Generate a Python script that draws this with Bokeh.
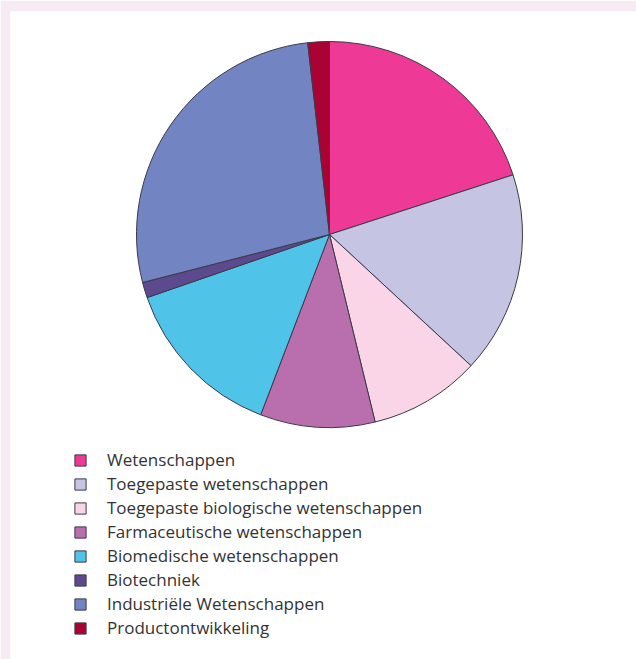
import numpy as np
from bokeh.plotting import figure
from bokeh.models import Range1d, ColumnDataSource, Legend, LegendItem, GlobalInlineStyleSheet
from bokeh.embed import file_html
from bokeh.resources import INLINE

categories = [
    "Wetenschappen",
    "Toegepaste wetenschappen",
    "Toegepaste biologische wetenschappen",
    "Farmaceutische wetenschappen",
    "Biomedische wetenschappen",
    "Biotechniek",
    "Industriële Wetenschappen",
    "Productontwikkeling",
]
values = [20.0, 16.9, 9.3, 9.6, 13.9, 1.3, 27.2, 1.8]
colors = ["#ee3a96", "#c5c4e2", "#f9d5e7", "#b96fae", "#50c3e9", "#5d4a8e", "#7285c2", "#ab0234"]

W, H = 636, 659
vals = np.array(values, dtype=float)
frac = vals / vals.sum()
cum = np.concatenate([[0], np.cumsum(frac)])
start = np.pi / 2 - cum[:-1] * 2 * np.pi
end = np.pi / 2 - cum[1:] * 2 * np.pi

cx, cy, r = 329, H - 234, 193

p = figure(width=W, height=H, output_backend="svg", toolbar_location=None,
           x_range=Range1d(10, W), y_range=Range1d(0, H - 11),
           min_border_left=10, min_border_top=11, min_border_right=0, min_border_bottom=0)
p.stylesheets = [GlobalInlineStyleSheet(css="body{margin:0 !important;background:#ffffff;}")]
p.border_fill_color = "#f6ebf3"
p.background_fill_color = "#ffffff"
p.outline_line_color = None
p.xaxis.visible = False
p.yaxis.visible = False
p.grid.visible = False

renderers = []
for i, c in enumerate(categories):
    rr = p.wedge(x=cx, y=cy, radius=r, start_angle=start[i], end_angle=end[i],
                 direction="clock", fill_color=colors[i], line_color="#3b3948", line_width=1)
    renderers.append(rr)

items = [LegendItem(label=c, renderers=[renderers[i]]) for i, c in enumerate(categories)]
legend = Legend(items=items, location=(63, 20), orientation="vertical",
                glyph_width=14, glyph_height=14, label_standoff=20,
                label_text_font="Open Sans", label_text_font_size="17px",
                label_text_color="#333333", label_height=20, spacing=1,
                padding=0, margin=0, border_line_color=None,
                background_fill_alpha=0)
p.add_layout(legend, "center")

open("out.html", "w").write(file_html(p, INLINE))
